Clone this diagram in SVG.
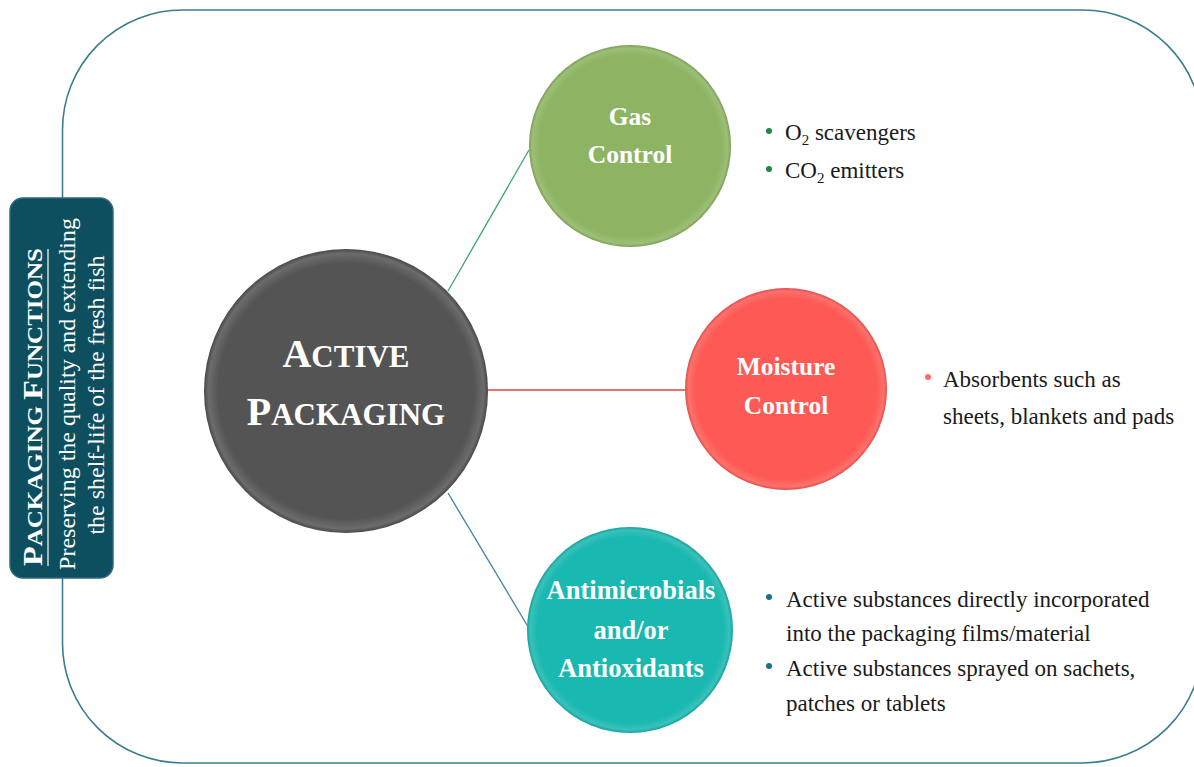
<svg xmlns="http://www.w3.org/2000/svg" width="1194" height="767" viewBox="0 0 1194 767">
<style>
.frame{fill:none;stroke:#3b7d8d;stroke-width:1.6}
.conn{stroke-width:1.3;fill:none}
.ntext{font-family:"Liberation Serif","Times New Roman",serif;font-weight:bold;fill:#ffffff;text-anchor:middle}
.btext{font-family:"Liberation Serif","Times New Roman",serif;font-size:23px;fill:#1a1a1a}
.side{font-family:"Liberation Serif","Times New Roman",serif;fill:#ffffff;text-anchor:middle}
</style>
<defs>
<radialGradient id="rim" cx="0.5" cy="0.5" r="0.5">
<stop offset="0" stop-color="#ffffff" stop-opacity="0"/>
<stop offset="0.9" stop-color="#ffffff" stop-opacity="0"/>
<stop offset="0.97" stop-color="#ffffff" stop-opacity="0.14"/>
<stop offset="1" stop-color="#000000" stop-opacity="0.12"/>
</radialGradient>
</defs>
<rect x="0" y="0" width="1194" height="767" fill="#ffffff"/>
<rect class="frame" x="62.5" y="10" width="1140" height="753" rx="120" ry="120"/>

<g id="connectors">
<line class="conn" x1="448" y1="291" x2="529" y2="150" stroke="#3fa766"/>
<line class="conn" x1="488" y1="390" x2="685" y2="390" stroke="#d9453f"/>
<line class="conn" x1="448" y1="493" x2="530" y2="630" stroke="#3a84a6"/>
</g>

<g id="side-box">
<rect x="10" y="198" width="103" height="380" rx="13" ry="13" fill="#0e4f5f" stroke="#2b6a79" stroke-width="1.5"/>
<text class="side" font-weight="bold" transform="translate(42,407) rotate(-90)" textLength="318" lengthAdjust="spacingAndGlyphs"><tspan font-size="27">P</tspan><tspan font-size="21">ACKAGING </tspan><tspan font-size="27">F</tspan><tspan font-size="21">UNCTIONS</tspan></text>
<line x1="48" y1="249" x2="48" y2="566" stroke="#ffffff" stroke-width="1.2"/>
<text class="side" font-size="24" transform="translate(75,394) rotate(-90)">Preserving the quality and extending</text>
<text class="side" font-size="24" transform="translate(104,395) rotate(-90)">the shelf-life of the fresh fish</text>
</g>

<g id="active-packaging">
<circle cx="346" cy="391" r="142" fill="#545454"/>
<circle cx="346" cy="391" r="142" fill="url(#rim)"/>
<text class="ntext" x="346" y="367"><tspan font-size="40">A</tspan><tspan font-size="31">CTIVE</tspan></text>
<text class="ntext" x="346" y="425"><tspan font-size="40">P</tspan><tspan font-size="31">ACKAGING</tspan></text>
</g>

<g id="gas-control">
<circle cx="630" cy="146" r="101" fill="#8db462"/>
<circle cx="630" cy="146" r="101" fill="url(#rim)"/>
<text class="ntext" font-size="25.5" x="630" y="125">Gas</text>
<text class="ntext" font-size="25.5" x="630" y="163">Control</text>
</g>

<g id="moisture-control">
<circle cx="786" cy="389" r="101" fill="#fe5a55"/>
<circle cx="786" cy="389" r="101" fill="url(#rim)"/>
<text class="ntext" font-size="25.5" x="786" y="375">Moisture</text>
<text class="ntext" font-size="25.5" x="786" y="414">Control</text>
</g>

<g id="antimicrobials">
<circle cx="630" cy="630" r="103" fill="#19b8b0"/>
<circle cx="630" cy="630" r="103" fill="url(#rim)"/>
<text class="ntext" font-size="26.5" x="631" y="599">Antimicrobials</text>
<text class="ntext" font-size="26.5" x="631" y="639">and/or</text>
<text class="ntext" font-size="26.5" x="631" y="677">Antioxidants</text>
</g>

<g id="gas-bullets">
<circle cx="769" cy="131" r="3" fill="#1b8a3c"/>
<circle cx="769" cy="169" r="3" fill="#1b8a3c"/>
<text class="btext" x="785" y="140">O<tspan font-size="15" dy="5">2</tspan><tspan dy="-5"> scavengers</tspan></text>
<text class="btext" x="785" y="178">CO<tspan font-size="15" dy="5">2</tspan><tspan dy="-5"> emitters</tspan></text>
</g>

<g id="moisture-bullets">
<circle cx="928" cy="377" r="3" fill="#ff6b66"/>
<text class="btext" x="943" y="387">Absorbents such as</text>
<text class="btext" x="943" y="424">sheets, blankets and pads</text>
</g>

<g id="antimicrobial-bullets">
<circle cx="769" cy="597" r="3" fill="#1e6f8c"/>
<circle cx="769" cy="666" r="3" fill="#1e6f8c"/>
<text class="btext" x="786" y="607">Active substances directly incorporated</text>
<text class="btext" x="786" y="641">into the packaging films/material</text>
<text class="btext" x="786" y="676">Active substances sprayed on sachets,</text>
<text class="btext" x="786" y="711">patches or tablets</text>
</g>
</svg>
